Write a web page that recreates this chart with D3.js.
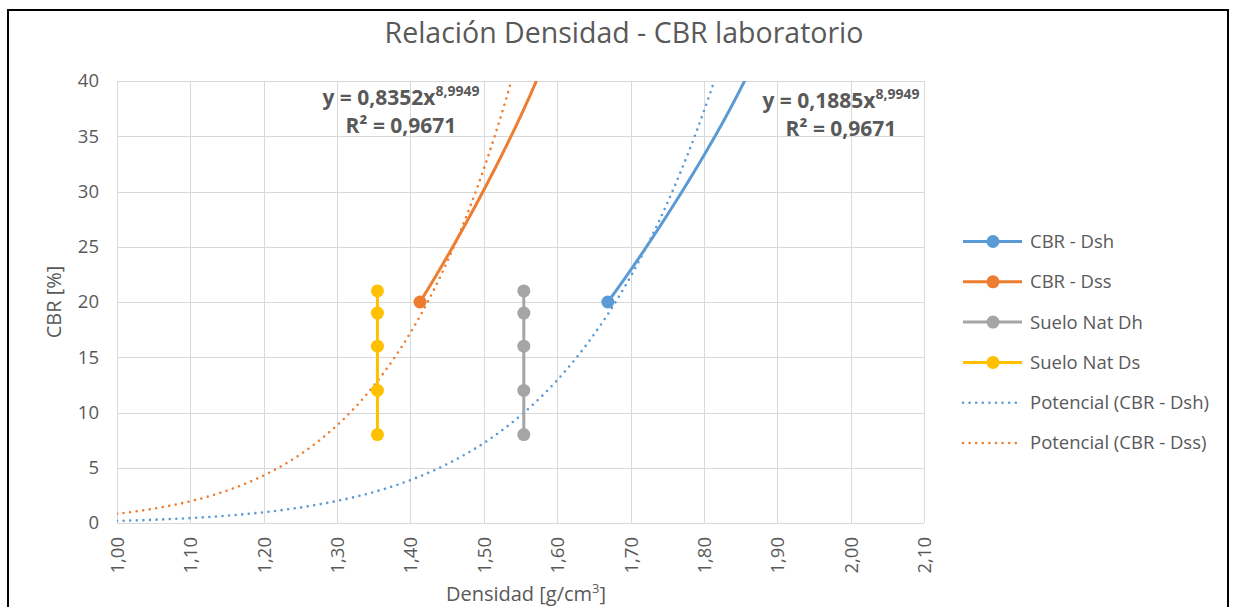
<!DOCTYPE html>
<html>
<head>
<meta charset="utf-8">
<script src="https://cdn.jsdelivr.net/npm/d3@7"></script>
<style>
  html, body { margin: 0; padding: 0; background: #fff; }
  svg { display: block; font-family: "Open Sans", "Noto Sans", sans-serif; }
</style>
</head>
<body>
<svg id="chart" width="1234" height="607"></svg>
<script>
// ---- data -------------------------------------------------------------
// laboratory CBR tests: dry density (Dss) and wet density (Dsh)
const dssDensity = [1.413, 1.615, 1.720];
const dssCBR     = [20, 48, 120];
const dshDensity = [1.669, 1.906, 2.030];
const dshCBR     = [20, 48, 120];
// natural soil samples
const natDsDensity = [1.355, 1.355, 1.355, 1.355, 1.355];
const natDhDensity = [1.5545, 1.5545, 1.5545, 1.5545, 1.5545];
const natCBR       = [21, 19, 16, 12, 8];

// power trendlines y = a·x^b, as printed on the chart
const trendCoef  = { dsh: 0.1885, dss: 0.8352 };
const trendExp   = 8.9949;
const trendR2    = "0,9671";

const xTicks = [1.0, 1.1, 1.2, 1.3, 1.4, 1.5, 1.6, 1.7, 1.8, 1.9, 2.0, 2.1];
const yTicks = [0, 5, 10, 15, 20, 25, 30, 35, 40];

const colors = { dsh: "#5B9BD5", dss: "#ED7D31", natDh: "#A5A5A5", natDs: "#FFC000" };
const textColor = "#595959";

// ---- layout -----------------------------------------------------------
const svg = d3.select("#chart");
const plot = { left: 117, right: 924, top: 81, bottom: 523 };

const x = d3.scaleLinear().domain([1.0, 2.1]).range([plot.left, plot.right]);
const y = d3.scaleLinear().domain([0, 40]).range([plot.bottom, plot.top]);
const fmt = d => d3.format(".2f")(d).replace(".", ",");

// outer chart frame
svg.append("rect")
  .attr("x", 8).attr("y", 10).attr("width", 1220).attr("height", 620)
  .attr("fill", "#fff").attr("stroke", "#000").attr("stroke-width", 2);

svg.append("defs").append("clipPath").attr("id", "plotClip")
  .append("rect")
  .attr("x", plot.left).attr("y", plot.top)
  .attr("width", plot.right - plot.left).attr("height", plot.bottom - plot.top);

// gridlines
const grid = svg.append("g").attr("stroke", "#d9d9d9").attr("stroke-width", 1);
grid.selectAll(".gx").data(xTicks).join("line")
  .attr("x1", d => Math.round(x(d)) + 0.5).attr("x2", d => Math.round(x(d)) + 0.5)
  .attr("y1", plot.top).attr("y2", plot.bottom);
grid.selectAll(".gy").data(yTicks).join("line")
  .attr("x1", plot.left).attr("x2", plot.right)
  .attr("y1", d => Math.round(y(d)) + 0.5).attr("y2", d => Math.round(y(d)) + 0.5);

// axes (labels only, no tick marks)
const yAxis = svg.append("g")
  .attr("transform", `translate(${plot.left},0)`)
  .call(d3.axisLeft(y).tickValues(yTicks).tickSize(0).tickPadding(18));
yAxis.select(".domain").remove();
yAxis.selectAll("text").attr("fill", textColor).attr("font-size", 18.5)
  .attr("font-family", "'Open Sans', sans-serif");

const xAxis = svg.append("g")
  .attr("transform", `translate(0,${plot.bottom})`)
  .call(d3.axisBottom(x).tickValues(xTicks).tickFormat(fmt).tickSize(0));
xAxis.select(".domain").remove();
xAxis.selectAll("text")
  .attr("fill", textColor).attr("font-size", 18.5)
  .attr("font-family", "'Open Sans', sans-serif")
  .attr("text-anchor", "end")
  .attr("dy", "0.35em")
  .attr("transform", "translate(0,14) rotate(-90)")
  .attr("x", 0).attr("y", 0);

// titles
svg.append("text").attr("x", 624).attr("y", 43)
  .attr("text-anchor", "middle").attr("font-size", 28.5).attr("fill", textColor)
  .text("Relación Densidad - CBR laboratorio");

const xt = svg.append("text").attr("x", 526).attr("y", 601)
  .attr("text-anchor", "middle").attr("font-size", 20).attr("fill", textColor);
xt.append("tspan").text("Densidad [g/cm");
xt.append("tspan").attr("font-size", 13).attr("dy", -8).text("3");
xt.append("tspan").attr("dy", 8).text("]");

svg.append("text")
  .attr("transform", "translate(61,302) rotate(-90)")
  .attr("text-anchor", "middle").attr("font-size", 20).attr("fill", textColor)
  .text("CBR [%]");

// series
const plotG = svg.append("g").attr("clip-path", "url(#plotClip)");

// trendlines (dotted)
function trendPoints(a) {
  const pts = [];
  for (let v = 1.0; v <= 2.1 + 1e-9; v += 0.002) pts.push([v, a * Math.pow(v, trendExp)]);
  return pts.filter(p => p[1] <= 44);
}
const line = d3.line().x(d => x(d[0])).y(d => y(d[1]));
[["dsh", colors.dsh], ["dss", colors.dss]].forEach(([k, c]) => {
  plotG.append("path")
    .attr("d", line(trendPoints(trendCoef[k])))
    .attr("fill", "none").attr("stroke", c)
    .attr("stroke-width", 2.6).attr("stroke-linecap", "round")
    .attr("stroke-dasharray", "0 6.6");
});

// smoothed data lines
const smooth = d3.line().x(d => x(d[0])).y(d => y(d[1])).curve(d3.curveCatmullRom.alpha(0.5));
const straight = d3.line().x(d => x(d[0])).y(d => y(d[1]));
const series = [
  { key: "natDs", xs: natDsDensity, ys: natCBR, gen: straight },
  { key: "natDh", xs: natDhDensity, ys: natCBR, gen: straight },
  { key: "dss", xs: dssDensity, ys: dssCBR, gen: smooth },
  { key: "dsh", xs: dshDensity, ys: dshCBR, gen: smooth }
];
series.forEach(s => {
  const pts = s.xs.map((v, i) => [v, s.ys[i]]);
  plotG.append("path").attr("d", s.gen(pts))
    .attr("fill", "none").attr("stroke", colors[s.key])
    .attr("stroke-width", 3).attr("stroke-linejoin", "round").attr("stroke-linecap", "round");
  plotG.append("g").selectAll("circle")
    .data(pts).join("circle")
    .attr("cx", d => x(d[0])).attr("cy", d => y(d[1])).attr("r", 6.5)
    .attr("fill", colors[s.key]);
});

// trendline equations
function equation(cx, yTop, coef) {
  const t1 = svg.append("text").attr("x", cx).attr("y", yTop)
    .attr("text-anchor", "middle").attr("font-size", 21).attr("font-weight", "bold")
    .attr("fill", textColor);
  t1.append("tspan").text("y = " + coef + "x");
  t1.append("tspan").attr("font-size", 14).attr("dy", -9).text("8,9949");
  const t2 = svg.append("text").attr("x", cx).attr("y", yTop + 28)
    .attr("text-anchor", "middle").attr("font-size", 21).attr("font-weight", "bold")
    .attr("fill", textColor);
  t2.text("R² = " + trendR2);
}
equation(401, 105, "0,8352");
equation(841, 108, "0,1885");

// legend
const legendItems = [
  { label: "CBR - Dsh", color: colors.dsh, dotted: false },
  { label: "CBR - Dss", color: colors.dss, dotted: false },
  { label: "Suelo Nat Dh", color: colors.natDh, dotted: false },
  { label: "Suelo Nat Ds", color: colors.natDs, dotted: false },
  { label: "Potencial (CBR - Dsh)", color: colors.dsh, dotted: true },
  { label: "Potencial (CBR - Dss)", color: colors.dss, dotted: true }
];
const lg = svg.append("g");
legendItems.forEach((it, i) => {
  const cy = 241.5 + i * 40.3;
  const l = lg.append("line").attr("x1", 963).attr("x2", 1022).attr("y1", cy).attr("y2", cy)
    .attr("stroke", it.color);
  if (it.dotted) {
    l.attr("stroke-width", 2.6).attr("stroke-linecap", "round").attr("stroke-dasharray", "0 6.6");
  } else {
    l.attr("stroke-width", 3);
    lg.append("circle").attr("cx", 993).attr("cy", cy).attr("r", 6.5).attr("fill", it.color);
  }
  lg.append("text").attr("x", 1030).attr("y", cy).attr("dy", "0.35em")
    .attr("font-size", 18.5).attr("fill", textColor).text(it.label);
});
</script>
</body>
</html>
